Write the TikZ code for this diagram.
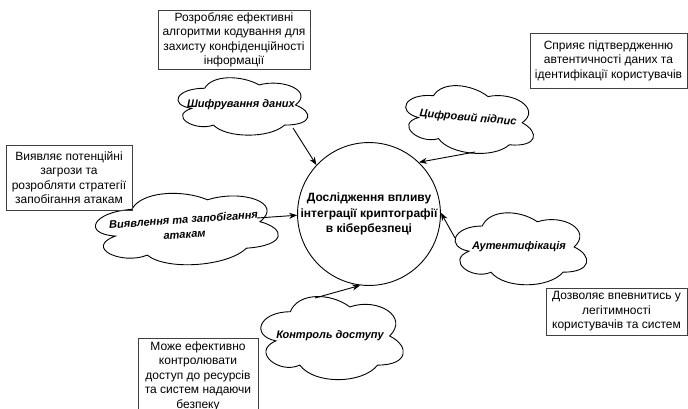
\documentclass[tikz,border=0pt]{standalone}
\usepackage{fontspec}
\setmainfont{Liberation Sans}
\usetikzlibrary{arrows.meta,calc,shapes.geometric}
\tikzset{
	note/.style={draw=black!75, line width=0.8pt, align=center, inner sep=2pt,
		font=\fontsize{12}{14.5}\selectfont},
	puff/.style={ellipse, inner sep=0pt, align=center,
		font=\fontsize{11}{15}\selectfont\bfseries\itshape},
	puffedge/.style={draw, line width=0.9pt},
	hub/.style={draw, circle, line width=0.9pt, minimum size=142pt, inner sep=0pt,
		align=center, font=\fontsize{12}{15.5}\selectfont\bfseries},
	link/.style={->, line width=0.9pt},
}
% cloud outline round a named node: node, width, height, angle
\newcommand{\puffline}[4]{%
	\draw[puffedge, shift={(#1.center)}, rotate=#4, x=#2pt, y=-#3pt, shift={(-0.5,-0.5)}]
		(0.25,0.25) .. controls (0.05,0.25) and (0,0.5) .. (0.16,0.55)
		.. controls (0,0.66) and (0.18,0.9) .. (0.31,0.8)
		.. controls (0.4,1) and (0.7,1) .. (0.8,0.8)
		.. controls (1,0.8) and (1,0.6) .. (0.875,0.5)
		.. controls (1,0.3) and (0.8,0.1) .. (0.625,0.2)
		.. controls (0.5,0.05) and (0.3,0.05) .. (0.25,0.25) -- cycle;}

\begin{document}
\begin{tikzpicture}[x=1pt, y=-1pt, >={Stealth[length=8pt,width=6pt]}]
				\useasboundingbox (0,0) rectangle (688,409);
				\node[hub] at (369,214) (topic) {Дослідження впливу\\інтеграції криптографії\\в кібербезпеці};
				% clouds
				\node[puff, minimum width=145pt, minimum height=67pt] at (241,105) (enc) {Шифрування даних};
				\node[puff, minimum width=145pt, minimum height=77pt, rotate=-5] at (468,118) (sig) {Цифровий підпис};
				\node[puff, minimum width=203pt, minimum height=85pt, rotate=4] at (184,227) (det) {Виявлення та запобігання\\атакам};
				\node[puff, minimum width=147pt, minimum height=84pt] at (519,247) (auth) {Аутентифікація};
				\node[puff, minimum width=159pt, minimum height=97pt] at (330,336) (acc) {Контроль доступу};
				\puffline{enc}{145}{67}{0}
				\puffline{sig}{145}{77}{-5}
				\puffline{det}{203}{85}{4}
				\puffline{auth}{147}{84}{0}
				\puffline{acc}{159}{97}{0}
				% notes
				\node[note, minimum width=152pt, minimum height=56pt] at (234,40) (encnote) {Розробляє ефективні\\алгоритми кодування для\\захисту конфіденційності\\інформації};
				\node[note, minimum width=157pt, minimum height=55pt] at (608.5,60.5) (signote) {Сприяє підтвердженню\\автентичності даних та\\ідентифікації користувачів};
				\node[note, minimum width=126pt, minimum height=65pt] at (69,177.5) (detnote) {Виявляє потенційні\\загрози та\\розробляти стратегії\\запобігання атакам};
				\node[note, minimum width=141pt, minimum height=47pt] at (616.5,311.5) (authnote) {Дозволяє впевнитись у\\легітимності\\користувачів та систем};
				\node[note, minimum width=120pt, minimum height=76pt] at (198,376) (accnote) {Може ефективно\\контролювати\\доступ до ресурсів\\та систем надаючи\\безпеку};
				% arrows
				\draw[link] ($(enc.center)+(52,23)$) -- (topic.137);
				\draw[link] ($(sig.center)+(7,34)$) -- (topic.46);
				\draw[link] ($(det.center)+(73,-9)$) -- (topic.181);
				\draw[link] ($(auth.center)+(-64,-9)$) -- (topic.1);
				\draw[link] ($(acc.center)+(-15,-38)$) -- (topic.263);
			\end{tikzpicture}
\end{document}
